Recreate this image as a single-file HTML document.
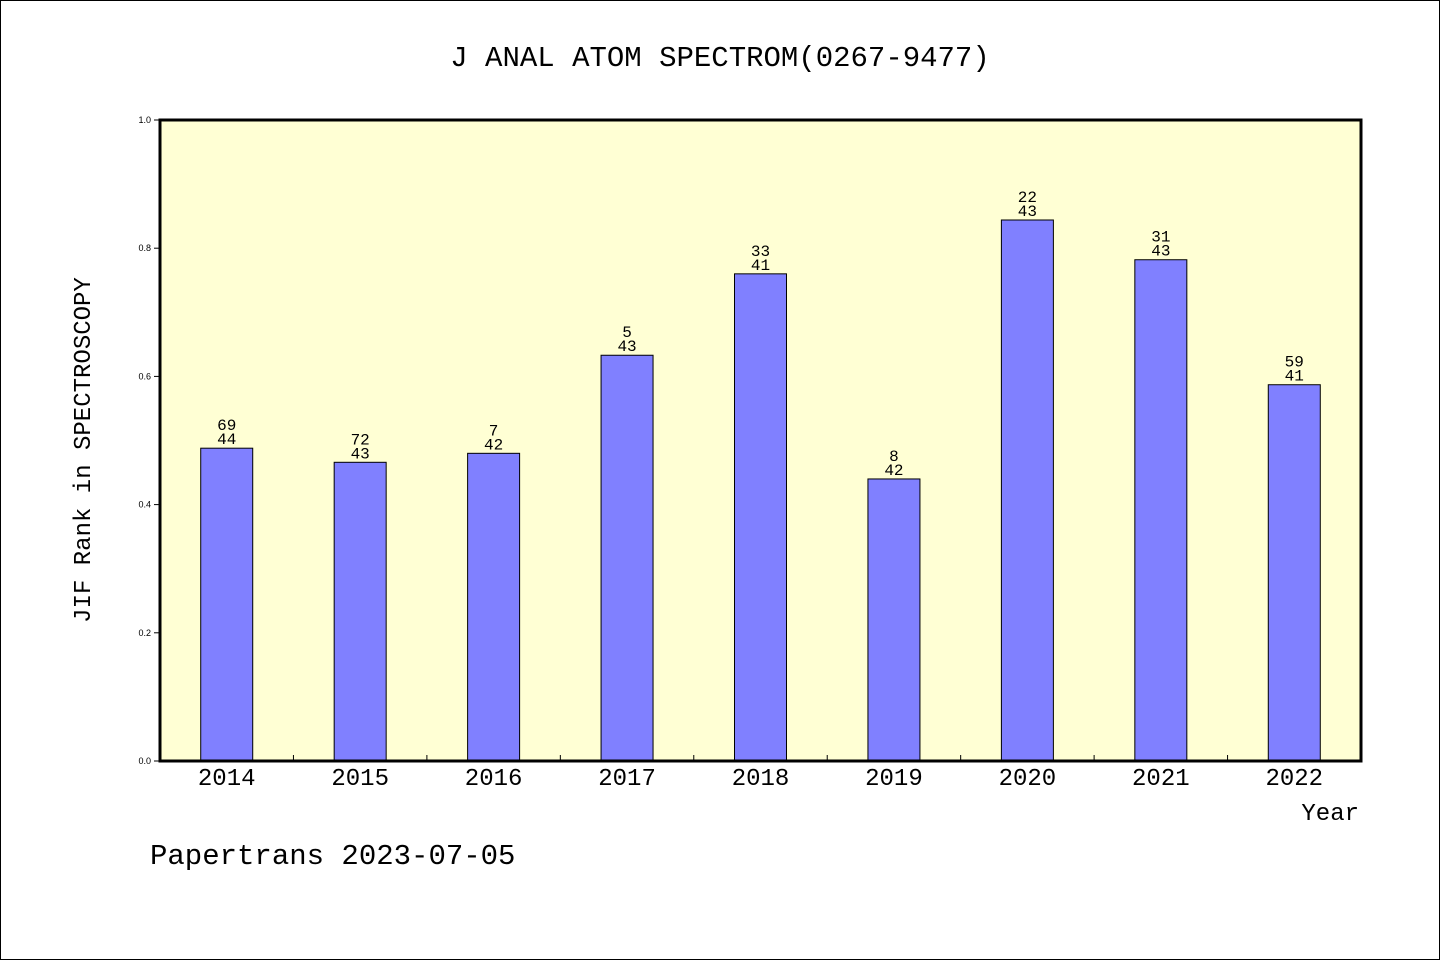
<!DOCTYPE html>
<html><head><meta charset="utf-8"><style>
html,body{margin:0;padding:0;background:#fff}
svg{display:block}
.m{font-family:"WenQuanYi Zen Hei","Liberation Mono",monospace;fill:#000}
</style></head><body>
<svg id="chart" width="1440" height="960" xmlns="http://www.w3.org/2000/svg">
<rect x="0.5" y="0.5" width="1439" height="959" fill="#fff" stroke="#000"/>
<text class="m" x="720" y="66" font-size="29" text-anchor="middle">J ANAL ATOM SPECTROM(0267-9477)</text>
<rect x="160" y="120" width="1201" height="641" fill="#ffffd4"/>
<g id="bars"></g>
<g id="axes"></g>
<rect x="160" y="120" width="1201" height="641" fill="none" stroke="#000" stroke-width="3"/>
<text class="m" x="90" y="450" font-size="24" text-anchor="middle" transform="rotate(-90 90 450)">JIF Rank in SPECTROSCOPY</text>
<text class="m" x="1359" y="820" font-size="24" text-anchor="end">Year</text>
<text class="m" x="150" y="864" font-size="29">Papertrans 2023-07-05</text>
</svg>
<script>
const years=["2014","2015","2016","2017","2018","2019","2020","2021","2022"];
const values=[0.488,0.466,0.480,0.633,0.760,0.440,0.844,0.782,0.587];
const ranks=["69","72","7","5","33","8","22","31","59"];
const totals=["44","43","42","43","41","42","43","43","41"];
const yTicks=[0,0.2,0.4,0.6,0.8,1.0];
const NS="http://www.w3.org/2000/svg";
const X0=160,X1=1361,Y0=761,Y1=120;
const step=(X1-X0)/years.length;
const xC=i=>X0+step*(i+0.5);
const y=v=>Y0-(Y0-Y1)*v;
function mk(t,a,p){const e=document.createElementNS(NS,t);for(const k in a)e.setAttribute(k,a[k]);p.appendChild(e);return e;}
const bars=document.getElementById('bars'),axes=document.getElementById('axes');
years.forEach((yr,i)=>{
 const b=mk('rect',{x:xC(i)-26,y:y(values[i]),width:52,height:Y0-y(values[i]),fill:'#8080ff',stroke:'#000','stroke-width':1},bars);
 
 
 const t1=mk('text',{x:xC(i),y:y(values[i])-18,'font-size':16,'text-anchor':'middle',class:'m'},bars);
 t1.textContent=ranks[i];
 
 
 const t2=mk('text',{x:xC(i),y:y(values[i])-4,'font-size':16,'text-anchor':'middle',class:'m'},bars);
 t2.textContent=totals[i];
 
 
 const xl=mk('text',{x:xC(i),y:785,'font-size':24,'text-anchor':'middle',class:'m'},axes);
 xl.textContent=yr;
 
 
 if(i>0){const tk=mk('line',{x1:X0+step*i,x2:X0+step*i,y1:Y0,y2:Y0-6,stroke:'#000','stroke-width':1},axes);
 
 }
});
yTicks.forEach(v=>{
 const tk=mk('line',{x1:X0-6,x2:X0,y1:y(v),y2:y(v),stroke:'#000','stroke-width':1},axes);
 
 
 const t=mk('text',{x:X0-9,y:y(v)+3,'font-size':9,'text-anchor':'end','font-family':'Liberation Sans, sans-serif'},axes);
 t.textContent=v.toFixed(1);
 
 
});
</script>
</body></html>
